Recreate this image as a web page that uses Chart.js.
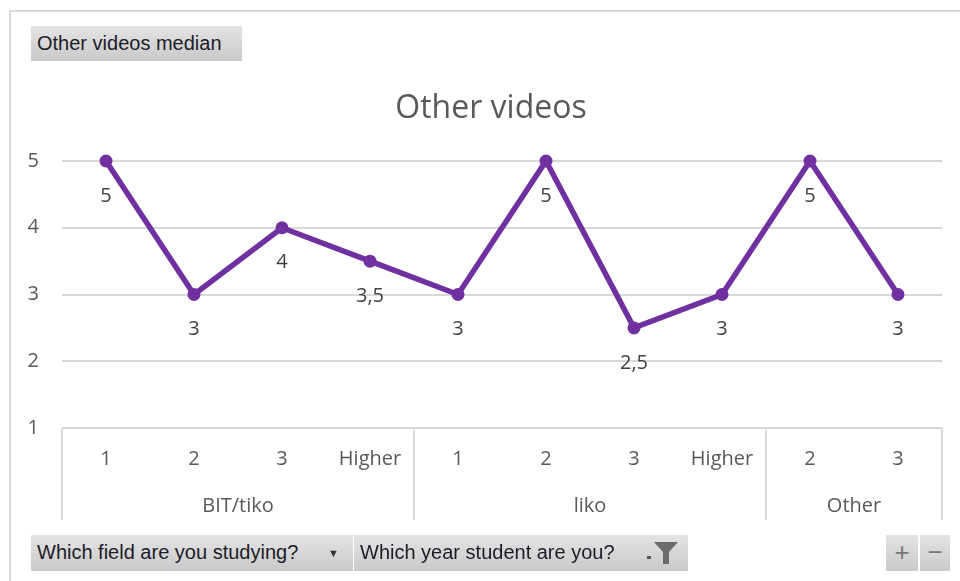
<!DOCTYPE html>
<html>
<head>
<meta charset="utf-8">
<script src="https://cdn.jsdelivr.net/npm/chart.js@4.4.0/dist/chart.umd.min.js"></script>
<style>
  html, body { margin:0; padding:0; background:#fff; }
  #wrap { position:relative; width:960px; height:581px; overflow:hidden; }
  #frame { position:absolute; left:9px; top:10px; width:1000px; height:700px; border:2px solid #d9d9d9; box-sizing:border-box; }
  canvas { position:absolute; left:0; top:0; }
  .btn { position:absolute; box-sizing:border-box; background:linear-gradient(#e4e4e4, #c9c9c9);
         font-family:"Liberation Sans", Arial, sans-serif; font-size:20px; color:#1c1c28;
         line-height:35px; padding-left:6px; white-space:nowrap; }
  .arrow { position:absolute; font-size:11px; color:#333; }
</style>
</head>
<body>
<div id="wrap">
  <div id="frame"></div>
  <canvas id="c" width="960" height="581"></canvas>
  <div class="btn" style="left:31px;top:26px;width:211px;height:35px;">Other videos median</div>
  <div class="btn" style="left:31px;top:535px;width:322px;height:36px;">Which field are you studying?<span class="arrow" style="left:297px;top:1px;">&#9660;</span></div>
  <div class="btn" style="left:354px;top:535px;width:334px;height:36px;">Which year student are you?
    <svg style="position:absolute;left:291px;top:6px;" width="36" height="24" viewBox="0 0 36 24">
      <rect x="2" y="15" width="4" height="3" fill="#555"/>
      <path d="M9 1 L33 1 L24 11 L24 23 L18 23 L18 11 Z" fill="#6b6b6b"/>
    </svg>
  </div>
  <div class="btn" style="left:886px;top:535px;width:32px;height:36px;padding:0;text-align:center;color:#777;font-size:26px;">+</div>
  <div class="btn" style="left:920px;top:535px;width:30px;height:36px;padding:0;text-align:center;color:#777;font-size:26px;">&minus;</div>
</div>
<script>
const chartTitle = 'Other videos';
const yearLabels = ['1','2','3','Higher','1','2','3','Higher','2','3'];
const fieldGroups = ['BIT/tiko','liko','Other'];
const groupSizes = [4, 4, 2];
const medianValues = [5, 3, 4, 3.5, 3, 5, 2.5, 3, 5, 3];
const yTicks = [1, 2, 3, 4, 5];

const TXT = '#595959';
const FONT = '"Open Sans", "Noto Sans", sans-serif';

const titlePlugin = {
  id: 'customTitle',
  afterDraw(chart) {
    const ctx = chart.ctx;
    ctx.save();
    ctx.fillStyle = TXT;
    ctx.font = '32px ' + FONT;
    ctx.textAlign = 'center';
    ctx.textBaseline = 'middle';
    ctx.fillText(chartTitle, 491, 109);
    ctx.restore();
  }
};

const categoryBoxPlugin = {
  id: 'categoryBox',
  afterDraw(chart) {
    const ctx = chart.ctx;
    const x = chart.scales.x;
    const area = chart.chartArea;
    const half = (x.getPixelForValue(1) - x.getPixelForValue(0)) / 2;
    const top = area.bottom;
    const bottom = 520;
    ctx.save();
    ctx.strokeStyle = '#d9d9d9';
    ctx.lineWidth = 2;
    const bounds = [x.getPixelForValue(0) - half];
    let idx = 0;
    groupSizes.forEach(n => { idx += n; bounds.push(x.getPixelForValue(idx - 1) + half); });
    ctx.beginPath();
    bounds.forEach(b => { ctx.moveTo(Math.round(b), top); ctx.lineTo(Math.round(b), bottom); });
    ctx.stroke();
    ctx.fillStyle = TXT;
    ctx.font = '20px ' + FONT;
    ctx.textAlign = 'center';
    ctx.textBaseline = 'middle';
    fieldGroups.forEach((g, i) => {
      ctx.fillText(g, (bounds[i] + bounds[i + 1]) / 2, 506);
    });
    ctx.restore();
  }
};

const dataLabelPlugin = {
  id: 'dataLabels',
  afterDatasetsDraw(chart) {
    const ctx = chart.ctx;
    const meta = chart.getDatasetMeta(0);
    ctx.save();
    ctx.fillStyle = '#404040';
    ctx.font = '20px ' + FONT;
    ctx.textAlign = 'center';
    ctx.textBaseline = 'middle';
    meta.data.forEach((pt, i) => {
      const v = medianValues[i];
      ctx.fillText(String(v).replace('.', ','), pt.x, pt.y + 35);
    });
    ctx.restore();
  }
};

new Chart(document.getElementById('c'), {
  type: 'line',
  data: {
    labels: yearLabels,
    datasets: [{
      data: medianValues,
      borderColor: '#7030A0',
      backgroundColor: '#7030A0',
      borderWidth: 5.5,
      pointRadius: 6.5,
      pointHoverRadius: 6.5,
      pointBackgroundColor: '#7030A0',
      pointBorderWidth: 0,
      tension: 0,
      clip: false
    }]
  },
  options: {
    responsive: false,
    animation: false,
    devicePixelRatio: 1,
    layout: { padding: { left: 22, right: 18, top: 161, bottom: 0 } },
    plugins: {
      legend: { display: false },
      tooltip: { enabled: false },
      title: { display: false }
    },
    scales: {
      x: {
        offset: true,
        grid: { display: false, drawTicks: false },
        border: { display: false },
        ticks: { color: TXT, font: { family: FONT, size: 20 }, padding: 19, maxRotation: 0, autoSkip: false },
        afterFit(s) { s.height = 153; }
      },
      y: {
        min: 1, max: 5,
        afterBuildTicks(s) { s.ticks = yTicks.map(v => ({ value: v })); },
        grid: { color: '#d9d9d9', lineWidth: 2, drawTicks: false },
        border: { display: false },
        ticks: { color: TXT, font: { family: FONT, size: 20 }, padding: 23 },
        afterFit(s) { s.width = 40; }
      }
    }
  },
  plugins: [titlePlugin, categoryBoxPlugin, dataLabelPlugin]
});
</script>
</body>
</html>
